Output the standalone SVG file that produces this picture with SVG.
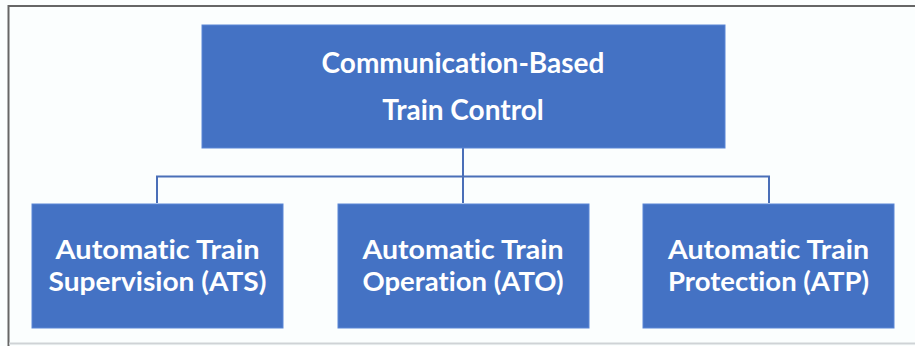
<svg xmlns="http://www.w3.org/2000/svg" width="915" height="346" viewBox="0 0 915 346">
<style>
.box{fill:#4472c4;stroke:#5a86d6;stroke-width:1}
.t{fill:#ffffff;font-family:Lato,"Open Sans",sans-serif;font-weight:bold;text-anchor:middle;font-variant-ligatures:none;font-feature-settings:"liga" 0}
.big{font-size:28px}
.sm{font-size:27px}
.con{fill:none;stroke:#4a6fb8;stroke-width:2}
</style>
<rect x="0" y="0" width="915" height="346" fill="#fbfefe"/>
<path d="M8.5,346 V6 H915" fill="none" stroke="#666666" stroke-width="2"/>
<line x1="9" y1="343.5" x2="915" y2="343.5" stroke="#cfd3d6" stroke-width="2"/>
<g id="connectors">
<line class="con" x1="463" y1="148" x2="463" y2="203"/>
<polyline class="con" points="157,203 157,176.5 769,176.5 769,203"/>
</g>
<g id="cbtc">
<rect class="box" x="202" y="25" width="523" height="123"/>
<text class="t big" x="463" y="73">Communication-Based</text>
<text class="t big" x="463" y="120">Train Control</text>
</g>
<g id="ats">
<rect class="box" x="32" y="204" width="251" height="124"/>
<text class="t sm" x="157.5" y="258.5" textLength="204" lengthAdjust="spacingAndGlyphs">Automatic Train</text>
<text class="t sm" x="157.5" y="291" textLength="218" lengthAdjust="spacingAndGlyphs">Supervision (ATS)</text>
</g>
<g id="ato">
<rect class="box" x="338" y="204" width="251" height="124"/>
<text class="t sm" x="463" y="258.5" textLength="201" lengthAdjust="spacingAndGlyphs">Automatic Train</text>
<text class="t sm" x="463" y="291" textLength="201" lengthAdjust="spacingAndGlyphs">Operation (ATO)</text>
</g>
<g id="atp">
<rect class="box" x="643" y="204" width="251" height="124"/>
<text class="t sm" x="768.5" y="258.5" textLength="201" lengthAdjust="spacingAndGlyphs">Automatic Train</text>
<text class="t sm" x="768.5" y="291" textLength="201" lengthAdjust="spacingAndGlyphs">Protection (ATP)</text>
</g>
</svg>
